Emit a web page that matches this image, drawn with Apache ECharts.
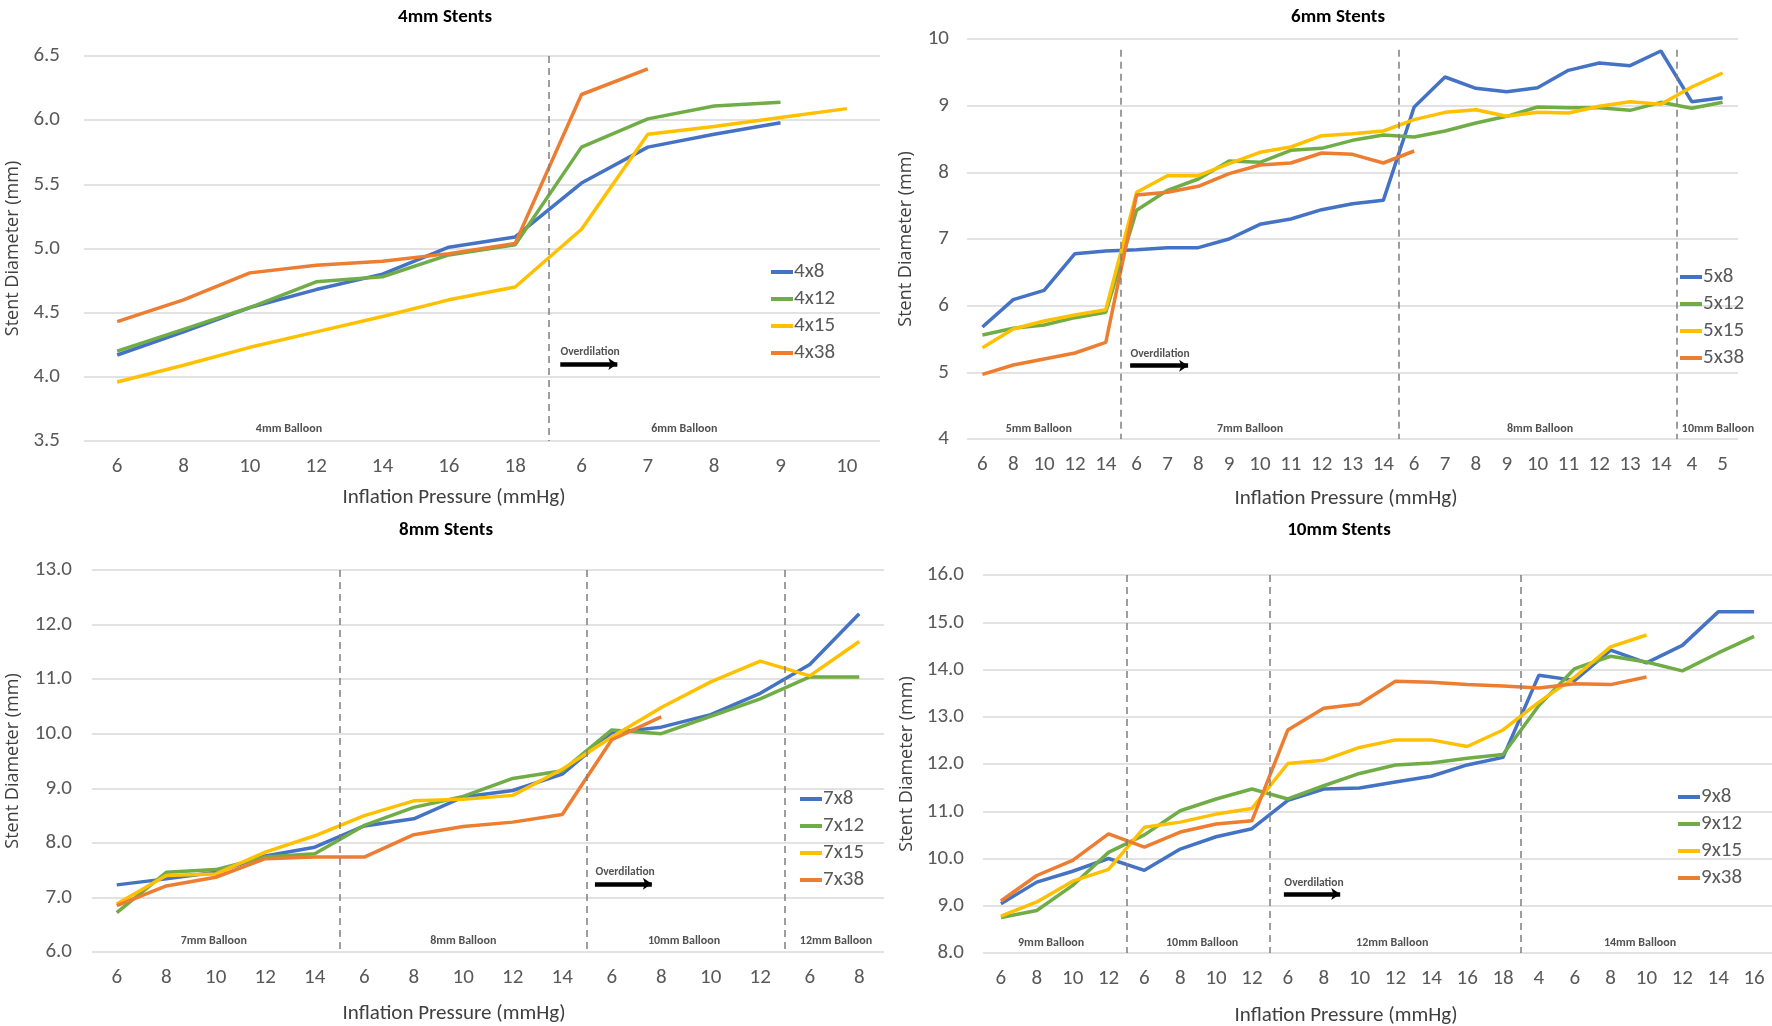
<!DOCTYPE html>
<html><head><meta charset="utf-8">
<script src="https://cdn.jsdelivr.net/npm/echarts@6/dist/echarts.min.js"></script>
<style>html,body{margin:0;padding:0;background:#fff}#c{width:1772px;height:1026px}</style>
</head><body><div id="c"></div>
<script>
// ================= DATA =================
// 4mm stents
const cats4 = ['6','8','10','12','14','16','18','6','7','8','9','10'];
const names4 = ['4x8','4x12','4x15','4x38'];
const s4x8  = [4.17, 4.35, 4.54, 4.68, 4.80, 5.01, 5.09, 5.51, 5.79, 5.89, 5.98, null];
const s4x12 = [4.20, 4.37, 4.54, 4.74, 4.78, 4.95, 5.03, 5.79, 6.01, 6.11, 6.14, null];
const s4x15 = [3.96, 4.09, 4.23, 4.35, 4.47, 4.60, 4.70, 5.15, 5.89, 5.95, 6.02, 6.09];
const s4x38 = [4.43, 4.60, 4.81, 4.87, 4.90, 4.96, 5.04, 6.20, 6.40, null, null, null];
const balloons4 = ['4mm Balloon','6mm Balloon'];
const groupSizes4 = [7, 5];

// 6mm stents
const cats6 = ['6','8','10','12','14','6','7','8','9','10','11','12','13','14','6','7','8','9','10','11','12','13','14','4','5'];
const names6 = ['5x8','5x12','5x15','5x38'];
const s5x8  = [5.68, 6.09, 6.23, 6.78, 6.82, 6.84, 6.87, 6.87, 7.00, 7.22, 7.30, 7.44, 7.53, 7.58, 8.98, 9.43, 9.26, 9.21, 9.27, 9.53, 9.64, 9.60, 9.82, 9.06, 9.12];
const s5x12 = [5.56, 5.66, 5.71, 5.82, 5.90, 7.43, 7.73, 7.90, 8.17, 8.15, 8.33, 8.36, 8.48, 8.56, 8.53, 8.62, 8.74, 8.84, 8.98, 8.97, 8.97, 8.93, 9.05, 8.96, 9.05];
const s5x15 = [5.37, 5.65, 5.77, 5.86, 5.94, 7.70, 7.95, 7.95, 8.13, 8.30, 8.38, 8.55, 8.58, 8.62, 8.79, 8.90, 8.94, 8.84, 8.90, 8.89, 8.99, 9.06, 9.02, 9.28, 9.49];
const s5x38 = [4.97, 5.11, 5.20, 5.29, 5.45, 7.66, 7.70, 7.79, 7.98, 8.11, 8.14, 8.29, 8.27, 8.14, 8.32, null, null, null, null, null, null, null, null, null, null];
const balloons6 = ['5mm Balloon','7mm Balloon','8mm Balloon','10mm Balloon'];
const groupSizes6 = [5, 9, 9, 2];

// 8mm stents
const cats8 = ['6','8','10','12','14','6','8','10','12','14','6','8','10','12','6','8'];
const names8 = ['7x8','7x12','7x15','7x38'];
const s7x8  = [7.23, 7.34, 7.46, 7.76, 7.92, 8.31, 8.44, 8.84, 8.96, 9.26, 10.02, 10.12, 10.35, 10.74, 11.27, 12.20];
const s7x12 = [6.72, 7.46, 7.51, 7.74, 7.80, 8.32, 8.65, 8.85, 9.18, 9.32, 10.07, 10.00, 10.32, 10.64, 11.04, 11.04];
const s7x15 = [6.88, 7.40, 7.43, 7.83, 8.13, 8.50, 8.77, 8.80, 8.87, 9.35, 9.94, 10.48, 10.95, 11.33, 11.06, 11.69];
const s7x38 = [6.85, 7.21, 7.37, 7.71, 7.74, 7.74, 8.15, 8.30, 8.38, 8.52, 9.89, 10.31, null, null, null, null];
const balloons8 = ['7mm Balloon','8mm Balloon','10mm Balloon','12mm Balloon'];
const groupSizes8 = [5, 5, 4, 2];

// 10mm stents
const cats10 = ['6','8','10','12','6','8','10','12','6','8','10','12','14','16','18','4','6','8','10','12','14','16'];
const names10 = ['9x8','9x12','9x15','9x38'];
const s9x8  = [9.04, 9.50, 9.73, 10.00, 9.75, 10.20, 10.46, 10.63, 11.23, 11.47, 11.49, 11.62, 11.74, 11.98, 12.14, 13.88, 13.77, 14.41, 14.14, 14.51, 15.22, 15.22];
const s9x12 = [8.75, 8.90, 9.43, 10.13, 10.50, 11.01, 11.26, 11.47, 11.26, 11.54, 11.80, 11.98, 12.02, 12.12, 12.20, 13.24, 14.02, 14.28, 14.16, 13.97, 14.35, 14.70];
const s9x15 = [8.78, 9.08, 9.52, 9.77, 10.66, 10.77, 10.94, 11.06, 12.01, 12.08, 12.35, 12.51, 12.51, 12.37, 12.72, 13.31, 13.84, 14.48, 14.73, null, null, null];
const s9x38 = [9.10, 9.64, 9.96, 10.52, 10.24, 10.56, 10.73, 10.80, 12.72, 13.18, 13.27, 13.75, 13.73, 13.68, 13.65, 13.61, 13.70, 13.68, 13.84, null, null, null];
const balloons10 = ['9mm Balloon','10mm Balloon','12mm Balloon','14mm Balloon'];
const groupSizes10 = [4, 4, 7, 7];

// ================= LAYOUT / STYLE =================
const COLORS = ['#4472C4', '#70AD47', '#FFC000', '#ED7D31'];
const CAL = "Carlito, 'Liberation Sans', sans-serif";
const YNAMEF = "'Open Sans', 'Noto Sans', sans-serif";

const charts = [
  { title: '4mm Stents', cats: cats4, names: names4, series: [s4x8, s4x12, s4x15, s4x38],
    balloons: balloons4, groups: groupSizes4,
    grid: {left: 84, top: 56, width: 796, height: 385},
    y: {min: 3.5, max: 6.5, interval: 0.5, dec: 1}, yLabelMargin: 24, yNameGap: 62,
    titlePos: [440, 3], xNamePos: [449, 482],
    legend: {left: 771, top: 261},
    balloonPos: [[2.59, 3.59], [8.55, 3.59]],
    sepTop: 6.5,
    overText: [7.13, 4.19], arrow: [6.68, 7.54, 4.10] },
  { title: '6mm Stents', cats: cats6, names: names6, series: [s5x8, s5x12, s5x15, s5x38],
    balloons: balloons6, groups: groupSizes6,
    grid: {left: 967, top: 39, width: 771, height: 400},
    y: {min: 4, max: 10, interval: 1, dec: 0}, yLabelMargin: 18, yNameGap: 52,
    titlePos: [1333, 3], xNamePos: [1341, 483],
    legend: {left: 1680, top: 266},
    balloonPos: [[1.83, 4.15], [8.68, 4.15], [18.08, 4.15], [23.85, 4.15]],
    sepTop: 9.84,
    overText: [5.76, 5.27], arrow: [4.79, 6.67, 5.10] },
  { title: '8mm Stents', cats: cats8, names: names8, series: [s7x8, s7x12, s7x15, s7x38],
    balloons: balloons8, groups: groupSizes8,
    grid: {left: 92, top: 570, width: 792, height: 382},
    y: {min: 6, max: 13, interval: 1, dec: 1}, yLabelMargin: 20, yNameGap: 70,
    titlePos: [441, 516], xNamePos: [449, 998],
    legend: {left: 800, top: 788},
    balloonPos: [[1.96, 6.20], [7.0, 6.20], [11.46, 6.20], [14.53, 6.20]],
    sepTop: 13,
    overText: [10.27, 7.47], arrow: [9.66, 10.81, 7.25] },
  { title: '10mm Stents', cats: cats10, names: names10, series: [s9x8, s9x12, s9x15, s9x38],
    balloons: balloons10, groups: groupSizes10,
    grid: {left: 983, top: 575, width: 789, height: 378},
    y: {min: 8, max: 16, interval: 1, dec: 1}, yLabelMargin: 19, yNameGap: 67,
    titlePos: [1334, 516], xNamePos: [1341, 1000],
    legend: {left: 1678, top: 786},
    balloonPos: [[1.40, 8.22], [5.61, 8.22], [10.91, 8.22], [17.82, 8.22]],
    sepTop: 16,
    overText: [8.73, 9.48], arrow: [7.89, 9.46, 9.25] }
];

const option = {
  backgroundColor: '#fff', animation: false,
  title: [], grid: [], xAxis: [], yAxis: [], legend: [], series: []
};

charts.forEach((c, g) => {
  option.title.push({ text: c.title, left: c.titlePos[0], top: c.titlePos[1], textAlign: 'center',
    textStyle: {fontFamily: CAL, fontWeight: 'bold', fontSize: 19, color: '#000'} });
  option.title.push({ text: 'Inflation Pressure (mmHg)', left: c.xNamePos[0], top: c.xNamePos[1], textAlign: 'center',
    textStyle: {fontFamily: CAL, fontWeight: 'normal', fontSize: 21, color: '#404040'} });
  option.grid.push(Object.assign({containLabel: false}, c.grid));
  option.xAxis[g] = { type: 'category', gridIndex: g, data: c.cats, boundaryGap: true,
    axisLine: {show: false}, axisTick: {show: false}, splitLine: {show: false},
    axisLabel: {interval: 0, fontFamily: CAL, fontSize: 21, color: '#595959', margin: 15} };
  option.xAxis[4 + g] = { type: 'value', gridIndex: g, min: -0.5, max: c.cats.length - 0.5, show: false };
  option.yAxis.push({ type: 'value', gridIndex: g, min: c.y.min, max: c.y.max, interval: c.y.interval,
    axisLine: {show: false}, axisTick: {show: false},
    splitLine: {lineStyle: {color: '#d9d9d9', width: 1.5}},
    axisLabel: {fontFamily: CAL, fontSize: 21, color: '#595959', margin: c.yLabelMargin,
      formatter: v => v.toFixed(c.y.dec)},
    name: 'Stent Diameter (mm)', nameLocation: 'middle', nameRotate: 90, nameGap: c.yNameGap,
    nameTextStyle: {fontFamily: YNAMEF, fontSize: 18, color: '#404040', verticalAlign: 'bottom'} });
  option.legend.push({ data: c.names, orient: 'vertical', left: c.legend.left, top: c.legend.top,
    padding: 0, itemGap: 5, itemWidth: 22, itemHeight: 4, icon: 'rect', selectedMode: false,
    textStyle: {fontFamily: CAL, fontSize: 21, color: '#595959', lineHeight: 22, padding: [0,0,0,-4]} });
  c.series.forEach((arr, k) => {
    option.series.push({ name: c.names[k], type: 'line', xAxisIndex: g, yAxisIndex: g, data: arr,
      symbol: 'none', color: COLORS[k], lineStyle: {width: 3.5, color: COLORS[k]}, z: 3 });
  });
  // annotations: balloon labels, separators, overdilation arrow
  const annData = c.balloonPos.map((p, i) => ({ value: [p[0], p[1]], label: {formatter: c.balloons[i], fontSize: 12} }));
  annData.push({ value: c.overText, label: {formatter: 'Overdilation', fontSize: 11.5} });
  const lines = [];
  let cum = 0;
  for (let i = 0; i < c.groups.length - 1; i++) {
    cum += c.groups[i];
    lines.push([
      {coord: [cum - 0.5, c.sepTop], symbol: 'none', lineStyle: {type: [7, 5], color: '#7f7f7f', width: 1.5}},
      {coord: [cum - 0.5, c.y.min], symbol: 'none'}
    ]);
  }
  lines.push([
    {coord: [c.arrow[0], c.arrow[2]], symbol: 'none', lineStyle: {type: 'solid', color: '#000', width: 4.5}},
    {coord: [c.arrow[1], c.arrow[2]], symbol: 'arrow', symbolSize: [9, 9]}
  ]);
  option.series.push({ type: 'scatter', xAxisIndex: 4 + g, yAxisIndex: g, data: annData,
    symbolSize: 0.1, itemStyle: {color: 'transparent'}, silent: true, z: 2,
    label: {show: true, position: 'inside', fontFamily: CAL, fontWeight: 'bold', color: '#262626'},
    markLine: {silent: true, animation: false, symbol: ['none', 'none'], label: {show: false}, data: lines} });
});

const chart = echarts.init(document.getElementById('c'), null, {renderer: 'canvas'});
chart.setOption(option);
</script>
</body></html>
